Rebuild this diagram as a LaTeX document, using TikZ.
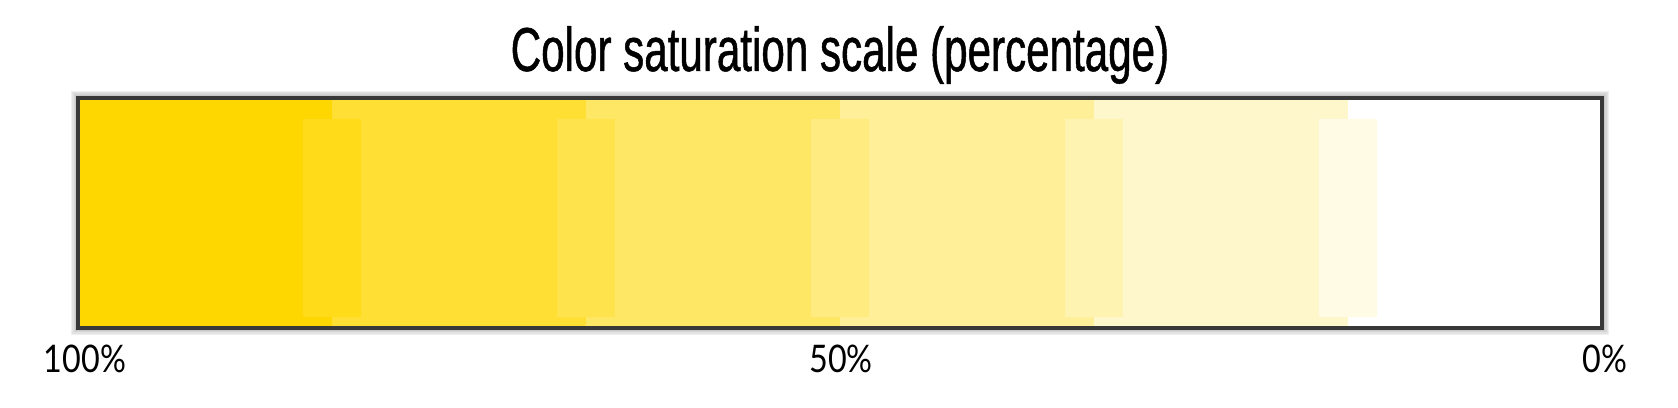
\documentclass[tikz,border=0pt]{standalone}
\usepackage{fontspec}
\usepackage{tikz}
\usetikzlibrary{positioning}

\newfontfamily\titlefont[FakeStretch=0.68, FakeBold=0.8]{Liberation Sans}
\newfontfamily\tickfont[FakeStretch=0.85]{Lato}
\definecolor{satgold}{HTML}{FFD700}
\definecolor{barframe}{HTML}{383838}

\tikzset{
  band/.style={fill=satgold!#1!white, draw=none},
  seam/.style={fill=satgold!#1!white, draw=none},
  tick label/.style={font=\tickfont\fontsize{38}{40}\selectfont, anchor=base, inner sep=0pt},
}

\begin{document}
\begin{tikzpicture}[x=1pt, y=1pt]
    \useasboundingbox (0,0) rectangle (1678,407);

    % corners of the scale bar
    \coordinate (bar-sw) at (78,79);
    \coordinate (bar-ne) at (1602,309);

    % soft shadow round the frame
    \foreach \k in {1,...,4}
        \draw[black, opacity=0.06, line width={4+2.5*\k}] (bar-sw) rectangle (bar-ne);

    % six saturation steps
    \foreach \i in {0,...,5} {
        \pgfmathtruncatemacro{\sat}{100-20*\i}
        \fill[band=\sat] ({78+254*\i},79) rectangle ({78+254*(\i+1)},309);
    }
    % overlapping seams between the steps
    \foreach \i in {1,...,5} {
        \pgfmathtruncatemacro{\sat}{110-20*\i}
        \fill[seam=\sat] ({78+254*\i-29},90) rectangle ({78+254*\i+29},288);
    }

    \draw[barframe, line width=4] (bar-sw) rectangle (bar-ne);

    \node[font=\titlefont\fontsize{62}{66}\selectfont, anchor=base, inner sep=0pt] (title) at (840,336) {Color saturation scale (percentage)};

    \node[tick label] (full) at (85,35) {100\%};
    \node[tick label] (half) at (841,35) {50\%};
    \node[tick label] (none) at (1605,35) {0\%};
\end{tikzpicture}
\end{document}
